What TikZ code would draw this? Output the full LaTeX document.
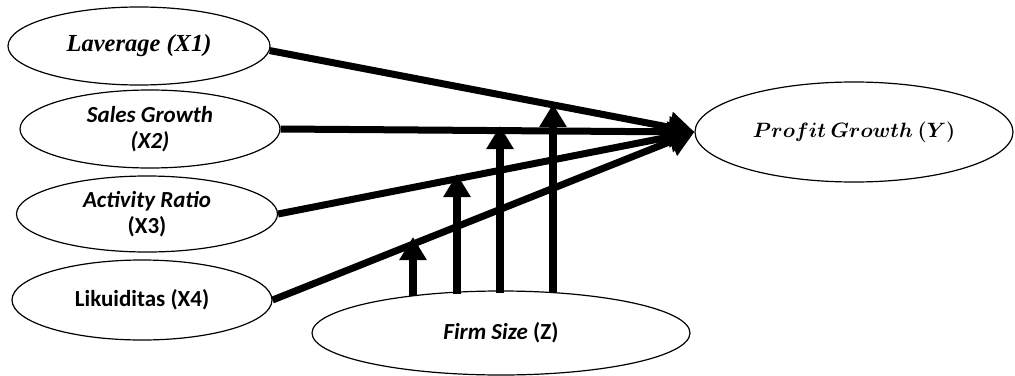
\documentclass[tikz,border=0pt]{standalone}
\usepackage{amsmath}
\usepackage{fontspec}
\setmainfont{Carlito}
\newfontfamily\serifbi{Liberation Serif}
\usetikzlibrary{shapes.geometric,arrows.meta}
\tikzset{
  var/.style={ellipse, draw, line width=1.2pt, inner sep=0pt, align=center,
    font=\fontsize{23}{25.5}\selectfont\bfseries},
  mainarrow/.style={line width=7pt, -{Triangle[length=25pt,width=30pt]}},
  modarrow/.style={line width=7.5pt, -{Triangle[length=23pt,width=26pt]}}
}
\begin{document}
\begin{tikzpicture}[x=1pt,y=-1pt]
\useasboundingbox (0,0) rectangle (1015,375);
\node[var, minimum width=262pt, minimum height=78pt] (x1) at (139,46)
  {\raisebox{-7pt}{\serifbi\itshape\fontsize{24.5}{26}\selectfont Laverage (X1)}};
\node[var, minimum width=260pt, minimum height=78pt] (x2) at (150,129)
  {\itshape Sales Growth\\\itshape (X2)};
\node[var, minimum width=261pt, minimum height=76pt] (x3) at (147,214)
  {\itshape Activity Ratio\\(X3)};
\node[var, minimum width=260pt, minimum height=80pt] (x4) at (142,300)
  {Likuiditas (X4)};
\node[var, minimum width=378pt, minimum height=84pt] (z) at (501,333)
  {\textit{Firm Size} (Z)};
\node[var, minimum width=318pt, minimum height=100pt] (yv) at (854,132)
  {\fontsize{20.5}{22}\selectfont $\boldsymbol{Profit\ Growth\ (Y)}$};

\draw[mainarrow] (x1.-2) -- (yv.west);
\draw[mainarrow] (x2.east) -- (yv.west);
\draw[mainarrow] (x3.east) -- (yv.west);
\draw[mainarrow] (x4.east) -- (yv.west);

\coordinate (z1) at (413,296);
\coordinate (z2) at (457,294);
\coordinate (z3) at (500,293);
\coordinate (z4) at (553,293);
\coordinate (m4) at (413,237);
\coordinate (m3) at (457,174);
\coordinate (m2) at (500,126);
\coordinate (m1) at (553,104);
\draw[modarrow] (z1) -- (m4);
\draw[modarrow] (z2) -- (m3);
\draw[modarrow] (z3) -- (m2);
\draw[modarrow] (z4) -- (m1);
\end{tikzpicture}
\end{document}
